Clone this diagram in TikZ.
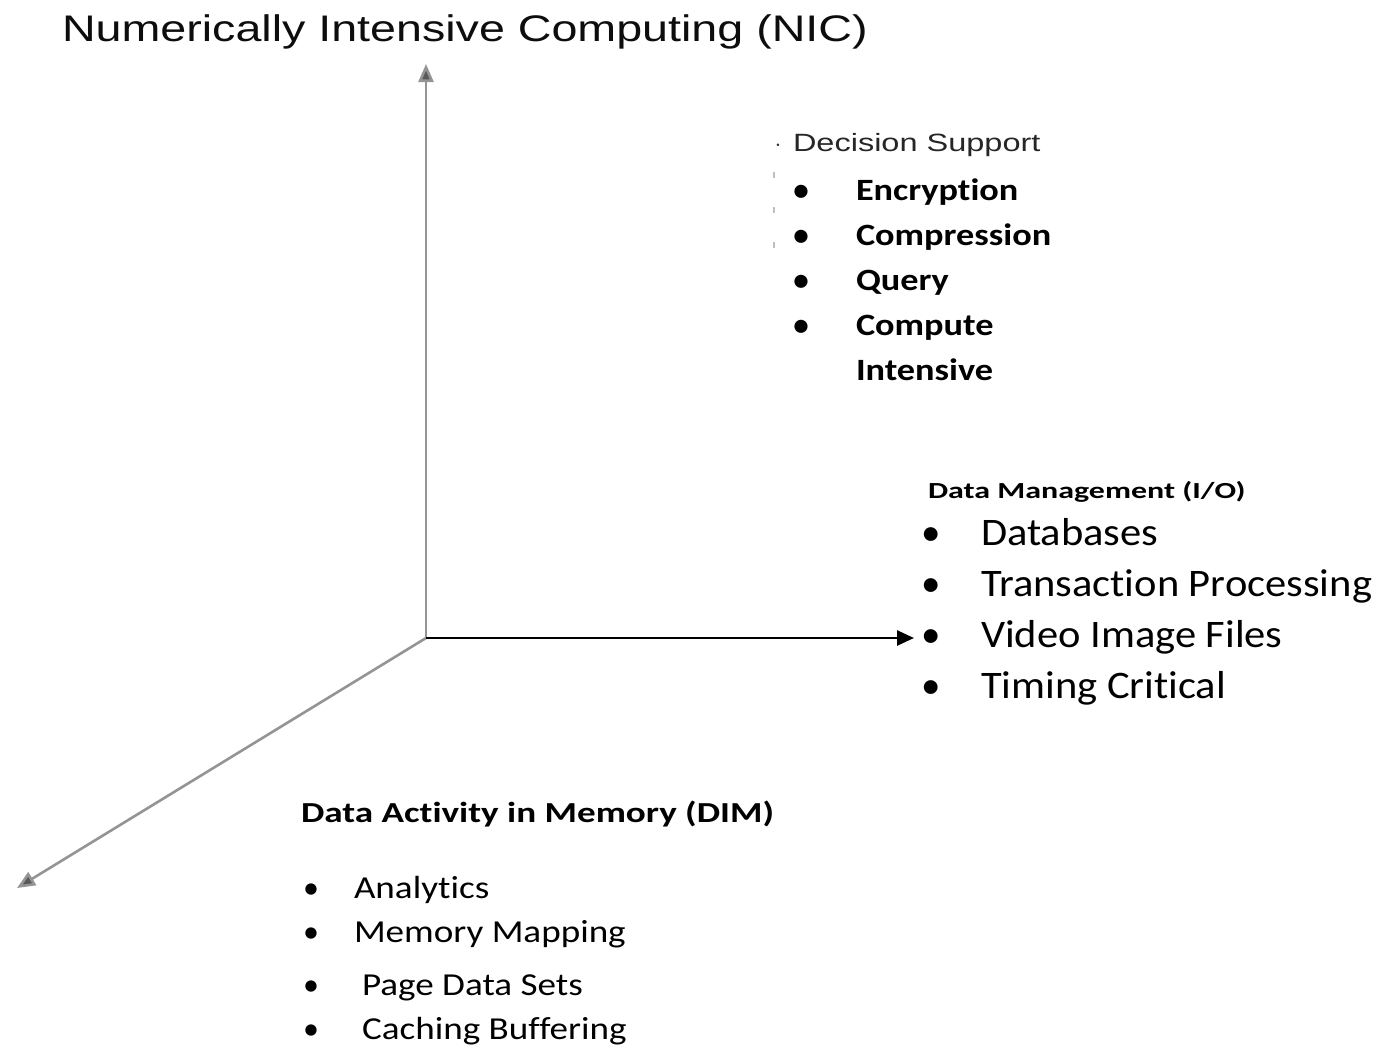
\documentclass[tikz,border=0pt]{standalone}
\usepackage{fontspec}
\setmainfont{Carlito}[Ligatures=NoCommon]
\newfontfamily\helv{Liberation Sans}
\usetikzlibrary{arrows.meta}
\tikzset{
  txt/.style={anchor=base west, inner sep=0pt, outer sep=0pt},
  bul/.style={anchor=base, inner sep=0pt, outer sep=0pt},
  grayaxis/.style={draw=black!42, line width=2.6bp, -{Triangle[length=18bp,width=15bp,fill=black!65]}},
  blackaxis/.style={draw=black, line width=2.6bp, -{Triangle[length=17bp,width=15bp]}},
  tick/.style={draw=black!25, line width=1.5bp},
  boldlist/.style={font=\fontsize{31bp}{31bp}\selectfont\bfseries},
  boldtxt/.style={txt, boldlist, xscale=1.17, transform shape},
  iolist/.style={font=\fontsize{39bp}{39bp}\selectfont},
  iotxt/.style={txt, iolist, xscale=1.09, transform shape},
  dimlist/.style={font=\fontsize{32bp}{32bp}\selectfont},
  dimtxt/.style={txt, dimlist, xscale=1.16, transform shape},
}
\begin{document}
\begin{tikzpicture}[x=1bp,y=-1bp]
\useasboundingbox (0,0) rectangle (1378,1048);
% axes
\coordinate (O) at (426,638);
\coordinate (up) at (426,64);
\coordinate (right) at (914,638);
\coordinate (diag) at (17,888);
\draw[grayaxis] (O) -- (up);
\draw[grayaxis] (O) -- (diag);
\draw[blackaxis] (O) -- (right);
% title
\node[txt, font=\helv\fontsize{37bp}{37bp}\selectfont, text=black!95, xscale=1.26, transform shape] (title) at (62,41) {Numerically Intensive Computing (NIC)};
% decision support
\node[bul, font=\helv\fontsize{25bp}{25bp}\selectfont, text=black!80] (dsb) at (778,151) {$\cdot$};
\node[txt, font=\helv\fontsize{25bp}{25bp}\selectfont, text=black!85, xscale=1.3, transform shape] (ds) at (793,151) {Decision Support};
\draw[tick] (774,172) -- (774,178);
\draw[tick] (774,207) -- (774,213);
\draw[tick] (774,242) -- (774,248);
% bold list
\foreach \t/\y [count=\i] in {Encryption/200, Compression/245, Query/290, Compute/335}{
  \node[bul, boldlist] (bb\i) at (801,\y) {•};
  \node[boldtxt] (bt\i) at (856,\y) {\t};
}
\node[boldtxt] (bt5) at (856,380) {Intensive};
% data management
\node[txt, font=\fontsize{23bp}{23bp}\selectfont\bfseries, xscale=1.39, transform shape] (dm) at (928,498) {Data Management (I/O)};
\foreach \t/\y [count=\i] in {Databases/545, Transaction Processing/596, Video Image Files/647, Timing Critical/698}{
  \node[bul, iolist] (ib\i) at (931,\y) {•};
  \node[iotxt] (it\i) at (981,\y) {\t};
}
% DIM
\node[txt, font=\fontsize{29bp}{29bp}\selectfont\bfseries, xscale=1.28, transform shape] (dim) at (301,822) {Data Activity in Memory (DIM)};
\foreach \t/\x/\y [count=\i] in {Analytics/354/898, Memory Mapping/354/942, Page Data Sets/362/995, Caching Buffering/362/1039}{
  \node[bul, dimlist] (db\i) at (311,\y) {•};
  \node[dimtxt] (dt\i) at (\x,\y) {\t};
}
\end{tikzpicture}
\end{document}
